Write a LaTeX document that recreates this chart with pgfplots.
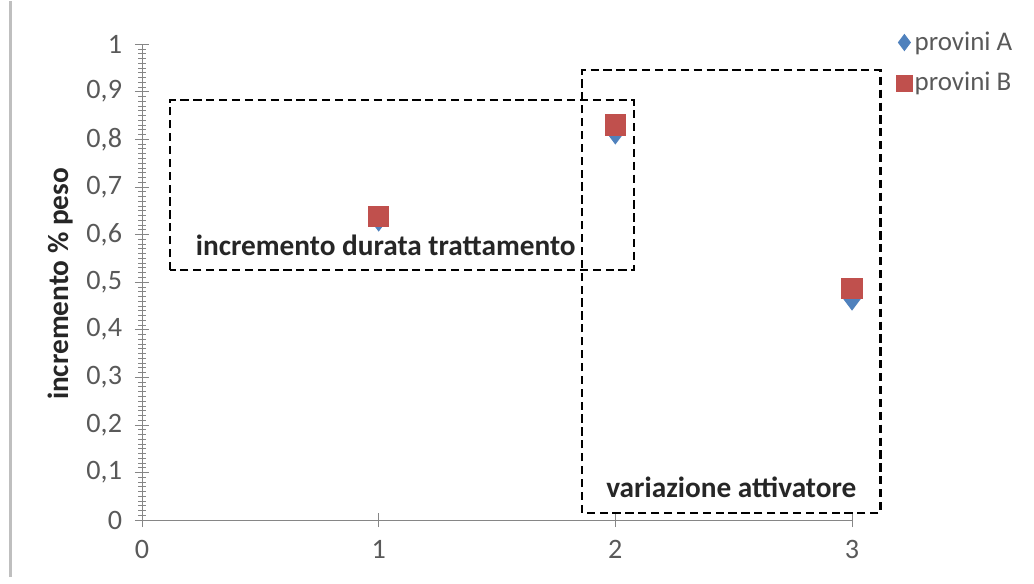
\documentclass[border=0pt]{standalone}
\usepackage{pgfplots}
\pgfplotsset{compat=1.18}
\usepackage{fontspec}
\setmainfont{Carlito}
\definecolor{serA}{HTML}{4F81BD}
\definecolor{serB}{HTML}{C0504D}
\definecolor{axgray}{HTML}{868686}
\definecolor{txtgray}{HTML}{595959}
\begin{document}
\begin{tikzpicture}
\begin{axis}[
    scale only axis,
    width=10.65cm, height=7.14cm,
    xmin=0, xmax=3, ymin=0, ymax=1,
    axis x line=bottom, axis y line=left,
    axis line style={axgray, -},
    xtick={0,1,2,3}, ytick={0,0.1,...,1},
    minor y tick num=9,
    tick align=center,
    major tick length=6pt, minor tick length=3pt,
    tick style={axgray},
    ticklabel style={txtgray, font=\fontsize{12}{14}\selectfont},
    /pgf/number format/assume math mode=true,
    /pgf/number format/use comma,
    yticklabel style={/pgf/number format/fixed, /pgf/number format/precision=1, xshift=-2pt},
    xticklabel style={yshift=-2pt},
    clip=false,
    legend style={at={(rel axis cs:1.052,1.042)}, anchor=north west, draw=none, fill=none,
        font=\fontsize{11.5}{14}\selectfont, text=txtgray, row sep=6pt,
        nodes={inner sep=1pt}},
    legend cell align=left,
    legend image code/.code={\draw[#1, mark size=3.4pt] (0.12cm,0cm) -- plot coordinates {(0.12cm,0cm)};},
]
\addplot[only marks, mark=diamond*, mark size=5pt, color=serA] coordinates {
    (1,0.632) (2,0.815) (3,0.466)};
\addlegendentry{provini A}
\addplot[only marks, mark=square*, mark size=4.3pt, color=serB] coordinates {
    (1,0.638) (2,0.830) (3,0.486)};
\addlegendentry{provini B}
\draw[black, line width=1pt, dash pattern=on 3.5pt off 2pt]
    (axis cs:0.118,0.525) rectangle (axis cs:2.08,0.882);
\draw[black, line width=1pt, dash pattern=on 3.5pt off 2pt]
    (axis cs:1.86,0.015) rectangle (axis cs:3.12,0.945);
\node[font=\bfseries\fontsize{12.5}{14}\selectfont, text=black!85] at (axis cs:1.03,0.578) {incremento durata trattamento};
\node[font=\bfseries\fontsize{12.5}{14}\selectfont, text=black!85] at (axis cs:2.49,0.069) {variazione attivatore};
\node[rotate=90, font=\bfseries\fontsize{12.5}{14}\selectfont, text=black!85] at (axis cs:-0.346,0.496) {incremento \% peso};
\draw[gray!50, line width=1.2pt] (axis cs:-0.557,-0.12) -- (axis cs:-0.557,1.09);
\end{axis}
\pgfresetboundingbox
\path (-2.13cm,-0.945cm) rectangle (13.38cm,7.80cm);
\end{tikzpicture}
\end{document}
